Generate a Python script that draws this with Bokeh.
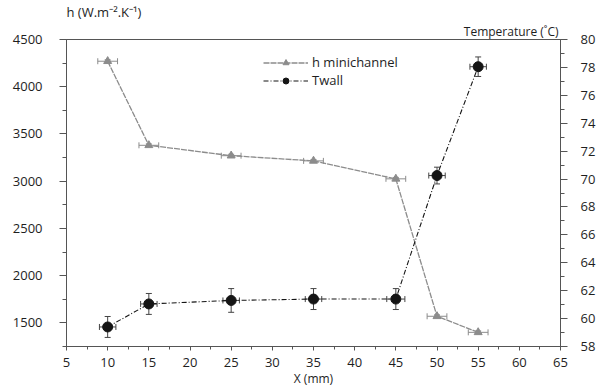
from bokeh.plotting import figure
from bokeh.models import (Range1d, LinearAxis, SingleIntervalTicker, Whisker, TeeHead,
                          ColumnDataSource, Legend, LegendItem, Title)
from bokeh.embed import file_html
from bokeh.resources import INLINE

# ---- data ----
x_pos = [10, 15, 25, 35, 45, 50, 55]
h_values = [4270, 3380, 3270, 3215, 3025, 1570, 1400]
h_xerr = [1.2, 1.2, 1.2, 1.2, 1.2, 1.2, 1.2]
h_yerr = [15, 15, 15, 15, 15, 15, 15]
t_values = [59.4, 61.05, 61.3, 61.4, 61.4, 70.25, 78.05]
t_xerr = [1.0, 1.0, 1.0, 1.0, 1.1, 1.0, 1.0]
t_yerr = [0.75, 0.75, 0.85, 0.75, 0.75, 0.6, 0.7]

FONT = "Open Sans"
TXT = "#1e1e1e"
AX = "#555555"

p = figure(width=599, height=390, output_backend="svg", toolbar_location=None, title=None,
           x_range=Range1d(5, 65), y_range=Range1d(1250, 4500),
           min_border_left=66, min_border_right=39, min_border_top=37, min_border_bottom=44)
p.extra_y_ranges = {"temp": Range1d(58, 80)}
p.xgrid.visible = False
p.ygrid.visible = False
p.outline_line_color = AX
p.outline_line_width = 1
p.background_fill_color = "white"
p.border_fill_color = "white"

h_src = ColumnDataSource(dict(
    x=x_pos, y=h_values,
    xl=[a - b for a, b in zip(x_pos, h_xerr)], xu=[a + b for a, b in zip(x_pos, h_xerr)],
    yl=[a - b for a, b in zip(h_values, h_yerr)], yu=[a + b for a, b in zip(h_values, h_yerr)]))
t_src = ColumnDataSource(dict(
    x=x_pos, y=t_values,
    xl=[a - b for a, b in zip(x_pos, t_xerr)], xu=[a + b for a, b in zip(x_pos, t_xerr)],
    yl=[a - b for a, b in zip(t_values, t_yerr)], yu=[a + b for a, b in zip(t_values, t_yerr)]))

grey = "#8c8c8c"
dark = "#151515"

h_line = p.line("x", "y", source=h_src, line_color=grey, line_width=1.3, line_dash="6 1")
h_mark = p.scatter("x", "y", source=h_src, marker="triangle", size=8, fill_color=grey,
                   line_color=grey)
t_line = p.line("x", "y", source=t_src, y_range_name="temp", line_color=dark, line_width=1.1,
                line_dash="5 2 1 2")
t_mark = p.scatter("x", "y", source=t_src, y_range_name="temp", marker="circle", size=10,
                   fill_color=dark, line_color=dark)

def head(c):
    return TeeHead(size=6, line_color=c, line_width=1)

p.add_layout(Whisker(source=h_src, base="y", lower="xl", upper="xu", dimension="width",
                     line_color=grey, lower_head=head(grey), upper_head=head(grey)))
p.add_layout(Whisker(source=h_src, base="x", lower="yl", upper="yu", dimension="height",
                     line_color=grey, lower_head=head(grey), upper_head=head(grey)))
p.add_layout(Whisker(source=t_src, base="y", lower="xl", upper="xu", dimension="width",
                     y_range_name="temp", line_color="#444444",
                     lower_head=head("#444444"), upper_head=head("#444444")))
p.add_layout(Whisker(source=t_src, base="x", lower="yl", upper="yu", dimension="height",
                     y_range_name="temp", line_color="#444444",
                     lower_head=head("#444444"), upper_head=head("#444444")))

# axes
right = LinearAxis(y_range_name="temp", ticker=SingleIntervalTicker(interval=2, num_minor_ticks=2))
p.add_layout(right, "right")
p.yaxis[0].ticker = SingleIntervalTicker(interval=500, num_minor_ticks=2)
p.xaxis[0].ticker = SingleIntervalTicker(interval=5, num_minor_ticks=2)
p.xaxis[0].axis_label = "X (mm)"

for ax in [p.xaxis[0], p.yaxis[0], right]:
    ax.axis_line_color = AX
    ax.major_tick_line_color = AX
    ax.minor_tick_line_color = AX
    ax.major_tick_out = 7
    ax.major_tick_in = 0
    ax.minor_tick_out = 4
    ax.minor_tick_in = 0
    ax.major_label_text_font = FONT
    ax.major_label_text_font_size = "13px"
    ax.major_label_text_line_height = 1.0
    ax.major_label_text_color = TXT
    ax.axis_label_text_font = FONT
    ax.axis_label_text_font_style = "normal"
    ax.axis_label_text_font_size = "12px"
    ax.axis_label_text_line_height = 1.0
    ax.axis_label_text_color = TXT
p.yaxis[0].major_label_standoff = 17
right.major_label_standoff = 13
p.xaxis[0].major_tick_out = 4
p.xaxis[0].minor_tick_out = 3
p.xaxis[0].major_label_standoff = 7
p.xaxis[0].axis_label_standoff = 0

# axis titles above the frame
p.add_layout(Title(text="Temperature (˚C)", align="right", offset=2, standoff=0,
                   text_font=FONT, text_font_size="12px", text_font_style="normal",
                   text_line_height=1.0, text_color=TXT), "above")
p.add_layout(Title(text="h (W.m⁻².K⁻¹)", align="left", offset=0, standoff=0,
                   text_font=FONT, text_font_size="13px", text_font_style="normal",
                   text_line_height=1.0, text_color=TXT), "above")

legend = Legend(items=[LegendItem(label="h minichannel", renderers=[h_line, h_mark]),
                       LegendItem(label="Twall", renderers=[t_line, t_mark])],
                location=(197, 257), border_line_color=None, background_fill_alpha=0,
                label_text_font=FONT, label_text_font_size="13px", label_text_color=TXT,
                glyph_width=45, glyph_height=15, spacing=0, padding=0, margin=0,
                label_standoff=4, label_height=17)
p.add_layout(legend)

open("out.html", "w").write(file_html(p, INLINE))
